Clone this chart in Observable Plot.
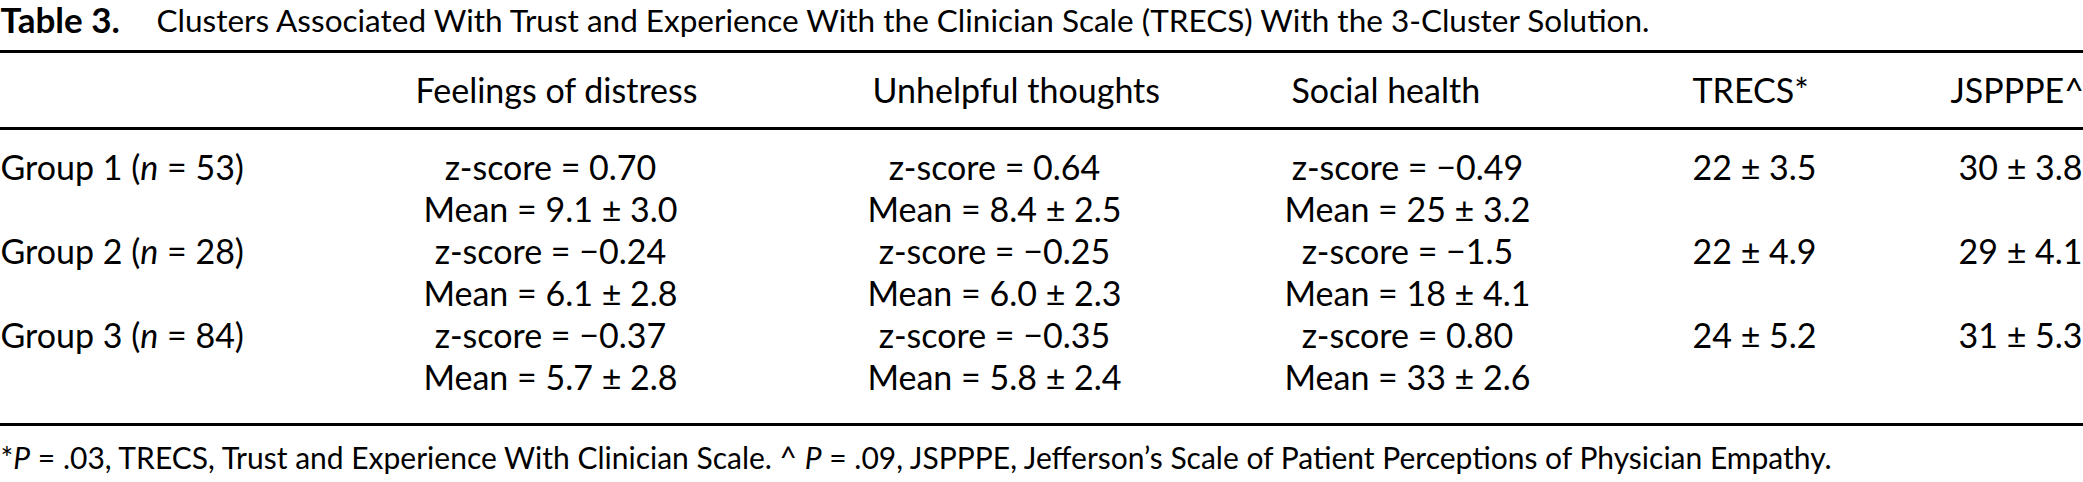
<!DOCTYPE html>
<html><head><meta charset="utf-8">
<script src="https://cdn.jsdelivr.net/npm/d3@7"></script>
<script src="https://cdn.jsdelivr.net/npm/@observablehq/plot@0.6"></script>
<style>html,body{margin:0;padding:0;background:#fff}svg{display:block}</style>
</head><body><div id="chart"></div><script>
// ---- data ----
const titleLabel = "Table 3.";
const titleText = "Clusters Associated With Trust and Experience With the Clinician Scale (TRECS) With the 3-Cluster Solution.";
const headers = ["Feelings of distress", "Unhelpful thoughts", "Social health", "TRECS*", "JSPPPE^"];
const groups = ["Group 1", "Group 2", "Group 3"];
const groupN = [53, 28, 84];
const distressZ = ["0.70", "-0.24", "-0.37"];
const distressMean = [9.1, 6.1, 5.7];
const distressSD = [3.0, 2.8, 2.8];
const thoughtsZ = ["0.64", "-0.25", "-0.35"];
const thoughtsMean = [8.4, 6.0, 5.8];
const thoughtsSD = [2.5, 2.3, 2.4];
const socialZ = ["-0.49", "-1.5", "0.80"];
const socialMean = [25, 18, 33];
const socialSD = [3.2, 4.1, 2.6];
const trecsMean = [22, 22, 24];
const trecsSD = [3.5, 4.9, 5.2];
const jspppeMean = [30, 29, 31];
const jspppeSD = [3.8, 4.1, 5.3];
const footnote = "*P = .03, TRECS, Trust and Experience With Clinician Scale. ^ P = .09, JSPPPE, Jefferson\u2019s Scale of Patient Perceptions of Physician Empathy.";

// ---- layout (table geometry, in SVG units) ----
const W = 2083, H = 482;
const FONT = "Lato, 'Noto Sans', sans-serif";
const FS = 34, FS_LABEL = 35, FS_TITLE = 31.5, FS_FOOT = 30;
const layout = {
  titleY: 21, titleTextX: 156,
  rules: [51, 128, 424],
  headerY: 92,
  rowY0: 169, rowStep: 42,
  footY: 459,
  headerX: [415, 872, 1291, 1692, 1950],
  cellX: {label: 0, distress: 550, thoughts: 994, social: 1407, trecs: 1692, jspppe: 1958},
  cellAnchor: {label: "start", distress: "middle", thoughts: "middle", social: "middle", trecs: "start", jspppe: "start"}
};

const minus = s => String(s).replace("-", "\u2212");
const f1 = d3.format(".1f"), f0 = d3.format(".0f");
const pm = (m, sd, fm) => `${fm(m)} \u00b1 ${f1(sd)}`;

// build cell table from data arrays
const cells = [];
groups.forEach((g, i) => {
  const yz = layout.rowY0 + (2 * i) * layout.rowStep;
  const ym = layout.rowY0 + (2 * i + 1) * layout.rowStep;
  cells.push({col: "label", y: yz, text: `${g} (n = ${groupN[i]})`});
  cells.push({col: "distress", y: yz, text: `z-score = ${minus(distressZ[i])}`});
  cells.push({col: "distress", y: ym, text: `Mean = ${pm(distressMean[i], distressSD[i], f1)}`});
  cells.push({col: "thoughts", y: yz, text: `z-score = ${minus(thoughtsZ[i])}`});
  cells.push({col: "thoughts", y: ym, text: `Mean = ${pm(thoughtsMean[i], thoughtsSD[i], f1)}`});
  cells.push({col: "social", y: yz, text: `z-score = ${minus(socialZ[i])}`});
  cells.push({col: "social", y: ym, text: `Mean = ${pm(socialMean[i], socialSD[i], f0)}`});
  cells.push({col: "trecs", y: yz, text: pm(trecsMean[i], trecsSD[i], f0)});
  cells.push({col: "jspppe", y: yz, text: pm(jspppeMean[i], jspppeSD[i], f0)});
});
cells.forEach(c => { c.x = layout.cellX[c.col]; c.anchor = layout.cellAnchor[c.col]; });
const headerCells = headers.map((h, i) => ({x: layout.headerX[i], y: layout.headerY, text: h}));

const textOpts = {x: "x", y: "y", text: "text", fontSize: FS, fill: "black", lineAnchor: "middle"};

const chart = Plot.plot({
  width: W, height: H, margin: 0,
  x: {domain: [0, W], range: [0, W], axis: null},
  y: {domain: [0, H], range: [0, H], axis: null},
  style: {fontFamily: FONT, background: "white", color: "black", overflow: "visible"},
  marks: [
    Plot.ruleY(layout.rules, {stroke: "black", strokeWidth: 3}),
    Plot.text([titleLabel], {x: 0, y: layout.titleY, text: d => d, textAnchor: "start", fontSize: FS_LABEL, fontWeight: "bold", fill: "black", lineAnchor: "middle"}),
    Plot.text([titleText], {x: layout.titleTextX, y: layout.titleY, text: d => d, textAnchor: "start", fontSize: FS_TITLE, fill: "black", lineAnchor: "middle"}),
    Plot.text(headerCells, {...textOpts, textAnchor: "start"}),
    Plot.text(cells.filter(c => c.anchor === "start"), {...textOpts, textAnchor: "start"}),
    Plot.text(cells.filter(c => c.anchor === "middle"), {...textOpts, textAnchor: "middle"}),
    Plot.text([footnote], {x: 0, y: layout.footY, text: d => d, textAnchor: "start", fontSize: FS_FOOT, fill: "black", lineAnchor: "middle"})
  ]
});

// italicise statistical symbols (n, P)
chart.querySelectorAll("text").forEach(t => {
  if (t.children.length) return;
  const s = t.textContent;
  const parts = s.split(/((?:\bn|\bP)(?= = ))/);
  if (parts.length < 2) return;
  t.textContent = "";
  parts.forEach(p => {
    if (!p) return;
    const ts = document.createElementNS("http://www.w3.org/2000/svg", "tspan");
    ts.textContent = p;
    if (p === "n" || p === "P") ts.setAttribute("font-style", "italic");
    t.appendChild(ts);
  });
});

document.getElementById("chart").appendChild(chart);
</script></body></html>
